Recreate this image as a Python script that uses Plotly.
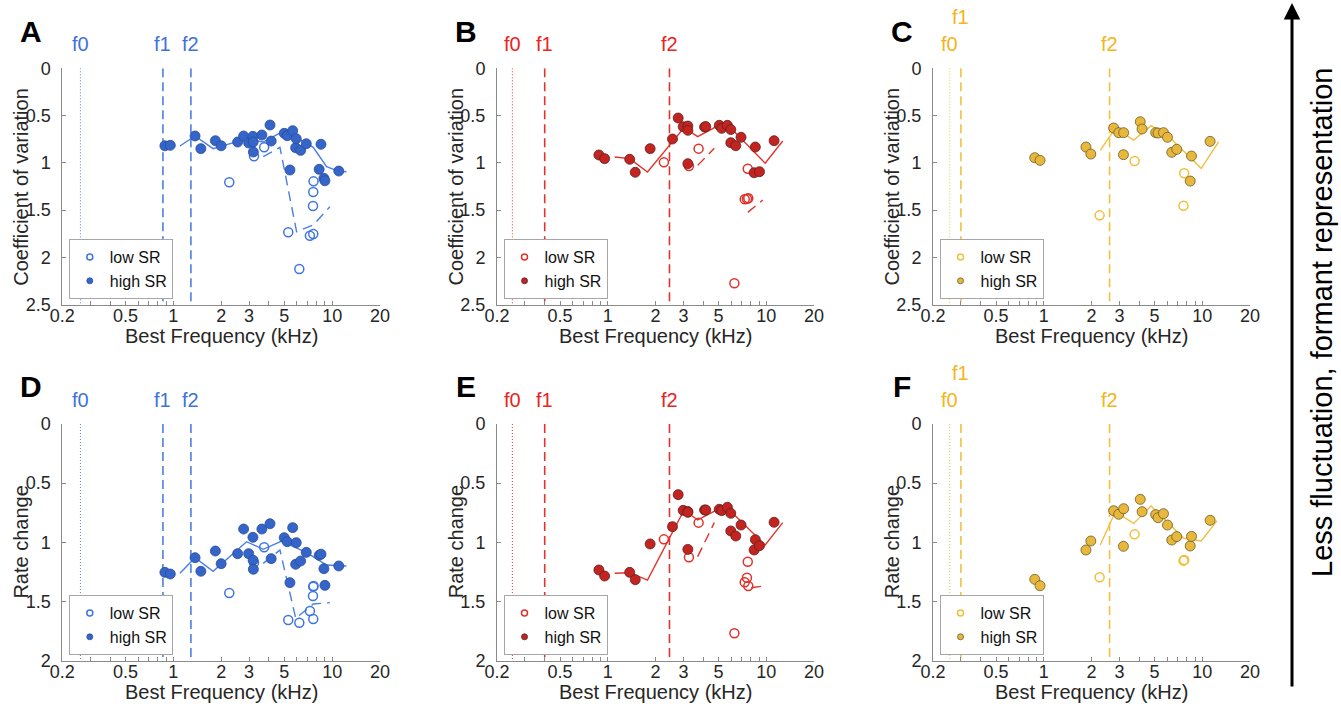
import math
import plotly.graph_objects as go

# ---------------- data ----------------
freq_labels = [0.2, 0.5, 1, 2, 3, 5, 10, 20]
freq_ticks = [0.2, 0.3, 0.4, 0.5, 0.6, 0.7, 0.8, 0.9, 1, 2, 3, 4, 5, 6, 7, 8, 9, 10, 20]
cv_ticks = [0, 0.5, 1, 1.5, 2, 2.5]
rc_ticks = [0, 0.5, 1, 1.5, 2]
formant_names = ["f0", "f1", "f2"]
sr_names = ["low SR", "high SR"]

# vowel 1 (blue) : panels A (CV) and D (rate change)
formants_blue = [0.26, 0.86, 1.29]
bf_hi_blue = [0.885, 0.957, 1.37, 1.49, 1.84, 2.0, 2.54, 2.77, 2.98, 3.17, 3.18, 3.19, 3.61, 4.06,
              4.13, 4.99, 5.21, 5.42, 5.64, 5.89, 5.94, 6.33, 6.87, 8.28, 8.5, 8.87, 9.0, 11.0]
cv_hi_blue = [0.82, 0.815, 0.716, 0.85, 0.766, 0.82, 0.78, 0.716, 0.79, 0.72, 0.78, 0.886, 0.706, 0.60,
              0.77, 0.688, 0.713, 1.076, 0.66, 0.84, 0.745, 0.868, 0.798, 1.069, 0.804, 1.164, 1.19, 1.087]
rc_hi_blue = [1.254, 1.268, 1.13, 1.245, 1.074, 1.181, 1.096, 0.888, 1.096, 0.958, 1.152, 1.228, 0.888, 0.843,
              1.138, 0.961, 0.995, 1.341, 0.876, 1.186, 1.003, 1.158, 1.085, 1.11, 1.10, 1.223, 1.364, 1.2]
bf_lo_blue = [2.25, 3.22, 3.73, 5.29, 6.21, 7.24, 7.6, 7.57, 7.6, 7.63]
cv_lo_blue = [1.206, 0.93, 0.836, 1.735, 2.124, 1.771, 1.753, 1.457, 1.309, 1.196]
rc_lo_blue = [1.429, 1.172, 1.042, 1.657, 1.68, 1.581, 1.648, 1.454, 1.375, 1.37]
cv_mean_hi_blue_f = [1.10, 1.37, 1.78, 2.54, 3.18, 3.68, 4.81, 5.82, 7.6, 9.22, 10.9, 12.3]
cv_mean_hi_blue = [0.822, 0.716, 0.85, 0.773, 0.759, 0.78, 0.674, 0.724, 0.836, 1.041, 1.087, 1.094]
cv_mean_lo_blue_f = [3.68, 4.69, 5.97, 7.6, 9.68]
cv_mean_lo_blue = [0.935, 0.836, 1.729, 1.658, 1.464]
rc_mean_hi_blue_f = [1.10, 1.37, 1.78, 2.89, 3.68, 4.81, 6.9, 9.22, 12.3]
rc_mean_hi_blue = [1.262, 1.13, 1.245, 0.995, 1.059, 0.989, 1.088, 1.192, 1.2]
rc_mean_lo_blue_f = [3.68, 4.69, 5.9, 7.6, 9.68]
rc_mean_lo_blue = [1.178, 1.065, 1.643, 1.522, 1.51]

# vowel 2 (red) : panels B and E
formants_red = [0.25, 0.40, 2.45]
bf_hi_red = [0.879, 0.955, 1.375, 1.49, 1.85, 2.56, 2.78, 2.99, 3.2, 3.2, 3.2, 4.08, 4.15, 5.05,
             5.23, 5.68, 5.97, 5.97, 6.42, 6.93, 8.38, 8.53, 9.06, 11.2]
cv_hi_red = [0.917, 0.956, 0.963, 1.10, 0.85, 0.748, 0.526, 0.618, 0.611, 0.656, 1.009, 0.621, 0.617, 0.603,
             0.635, 0.603, 0.648, 0.787, 0.819, 0.730, 1.105, 0.833, 1.094, 0.766]
rc_hi_red = [1.234, 1.285, 1.254, 1.316, 1.014, 0.868, 0.597, 0.73, 0.74, 0.747, 1.06, 0.727, 0.727, 0.721,
             0.732, 0.704, 0.755, 0.904, 0.947, 0.854, 1.065, 0.978, 1.029, 0.831]
bf_lo_red = [2.26, 3.25, 3.74, 7.64, 7.55, 7.31, 7.7, 6.29]
cv_lo_red = [0.995, 1.034, 0.85, 1.062, 1.38, 1.386, 1.375, 2.275]
rc_lo_red = [0.975, 1.127, 0.834, 1.164, 1.299, 1.338, 1.369, 1.769]
cv_mean_hi_red_f = [1.105, 1.375, 1.78, 3.03, 3.69, 5.05, 5.85, 9.84, 12.7]
cv_mean_hi_red = [0.939, 0.956, 1.097, 0.628, 0.723, 0.60, 0.617, 1.005, 0.769]
cv_mean_lo_red_f = [3.69, 4.7, None, 7.64, 9.51]
cv_mean_lo_red = [1.027, 0.847, None, 1.524, 1.394]
rc_mean_hi_red_f = [1.105, 1.375, 1.78, 3.03, 3.69, 5.05, 5.85, 9.84, 12.7]
rc_mean_hi_red = [1.262, 1.257, 1.319, 0.727, 0.811, 0.716, 0.727, 1.023, 0.834]
rc_mean_lo_red_f = [3.69, 4.7, None, 8.02, 9.74]
rc_mean_lo_red = [1.121, 0.834, None, 1.384, 1.369]

# vowel 3 (yellow) : panels C and F
formants_yellow = [0.255, 0.30, 2.6]
bf_hi_yellow = [0.877, 0.947, 1.845, 1.98, 2.76, 2.97, 3.19, 3.18, 4.06, 4.17, 5.08, 5.26, 5.69, 6.03,
                6.42, 6.9, 8.39, 8.55, 11.2]
cv_hi_yellow = [0.946, 0.974, 0.833, 0.907, 0.632, 0.681, 0.681, 0.914, 0.565, 0.642, 0.681, 0.685, 0.681, 0.73,
                0.889, 0.857, 1.193, 0.928, 0.773]
rc_hi_yellow = [1.313, 1.367, 1.065, 0.989, 0.733, 0.763, 0.716, 1.034, 0.637, 0.741, 0.766, 0.792, 0.758, 0.854,
                0.981, 0.952, 1.031, 0.95, 0.814]
bf_lo_yellow = [2.25, 3.74, 7.69, 7.61]
cv_lo_yellow = [1.556, 0.981, 1.111, 1.454]
rc_lo_yellow = [1.296, 0.933, 1.15, 1.155]
cv_mean_hi_yellow_f = [2.27, 2.83, 3.69, 4.75, 6.0, 9.85, 12.7]
cv_mean_hi_yellow = [0.868, 0.635, 0.759, 0.607, 0.706, 1.058, 0.777]
rc_mean_hi_yellow_f = [2.27, 2.83, 3.69, 4.75, 7.64, 9.85, 12.4]
rc_mean_hi_yellow = [1.023, 0.741, 0.84, 0.693, 0.966, 0.989, 0.817]

# ---------------- layout constants ----------------
W, H = 1341, 713
FONT = "Liberation Sans, Arial, Helvetica, sans-serif"
TXT = "#262626"
AXC = "#8a8a8a"
COL_X = [(62.3, 380.0), (497.0, 814.0), (933.0, 1250.0)]
ROW_Y = [(68.3, 304.6), (424.0, 660.6)]

STY = {
    "blue": dict(line="#4a7fe3", text="#3f72db", fill="#3565c8", edge="#2a4d9c", open="#3f74e0", raise_f1=False),
    "red": dict(line="#e3332b", text="#e8251e", fill="#c42420", edge="#5c2222", open="#e2302a", raise_f1=False),
    "yellow": dict(line="#f1c042", text="#f2b51c", fill="#e8b83d", edge="#6b5a2a", open="#f2be3a", raise_f1=True),
}


def px(x):
    return x / W


def py(y):
    return 1 - y / H


panels = [
    dict(letter="A", row=0, col=0, v="blue", formants=formants_blue,
         hi=(bf_hi_blue, cv_hi_blue), lo=(bf_lo_blue, cv_lo_blue),
         mhi=(cv_mean_hi_blue_f, cv_mean_hi_blue), mlo=(cv_mean_lo_blue_f, cv_mean_lo_blue),
         title="Coefficient of variation", ticks=cv_ticks),
    dict(letter="B", row=0, col=1, v="red", formants=formants_red,
         hi=(bf_hi_red, cv_hi_red), lo=(bf_lo_red, cv_lo_red),
         mhi=(cv_mean_hi_red_f, cv_mean_hi_red), mlo=(cv_mean_lo_red_f, cv_mean_lo_red),
         title="Coefficient of variation", ticks=cv_ticks),
    dict(letter="C", row=0, col=2, v="yellow", formants=formants_yellow,
         hi=(bf_hi_yellow, cv_hi_yellow), lo=(bf_lo_yellow, cv_lo_yellow),
         mhi=(cv_mean_hi_yellow_f, cv_mean_hi_yellow), mlo=None,
         title="Coefficient of variation", ticks=cv_ticks),
    dict(letter="D", row=1, col=0, v="blue", formants=formants_blue,
         hi=(bf_hi_blue, rc_hi_blue), lo=(bf_lo_blue, rc_lo_blue),
         mhi=(rc_mean_hi_blue_f, rc_mean_hi_blue), mlo=(rc_mean_lo_blue_f, rc_mean_lo_blue),
         title="Rate change", ticks=rc_ticks),
    dict(letter="E", row=1, col=1, v="red", formants=formants_red,
         hi=(bf_hi_red, rc_hi_red), lo=(bf_lo_red, rc_lo_red),
         mhi=(rc_mean_hi_red_f, rc_mean_hi_red), mlo=(rc_mean_lo_red_f, rc_mean_lo_red),
         title="Rate change", ticks=rc_ticks),
    dict(letter="F", row=1, col=2, v="yellow", formants=formants_yellow,
         hi=(bf_hi_yellow, rc_hi_yellow), lo=(bf_lo_yellow, rc_lo_yellow),
         mhi=(rc_mean_hi_yellow_f, rc_mean_hi_yellow), mlo=None,
         title="Rate change", ticks=rc_ticks),
]

fig = go.Figure()
layout = dict(width=W, height=H, margin=dict(l=0, r=0, t=0, b=0, autoexpand=False),
              paper_bgcolor="white", plot_bgcolor="white", showlegend=True,
              font=dict(family=FONT, color=TXT))
annotations = []

for i, p in enumerate(panels):
    n = i + 1
    sfx = "" if n == 1 else str(n)
    xa, ya = "x" + sfx, "y" + sfx
    lg = "legend" if n == 1 else "legend" + str(n)
    s = STY[p["v"]]
    ymax = p["ticks"][-1]
    x0, x1 = COL_X[p["col"]]
    y0, y1 = ROW_Y[p["row"]]

    # formant marker lines
    for j, f in enumerate(p["formants"]):
        fig.add_trace(go.Scatter(
            x=[f, f], y=[0, ymax], mode="lines", xaxis=xa, yaxis=ya, showlegend=False,
            hoverinfo="skip",
            line=dict(color=s["line"], width=1 if j == 0 else 1.6,
                      dash="1px,2px" if j == 0 else "9px,5px")))
        raise_px = 27 if (s["raise_f1"] and j == 1) else 0
        annotations.append(dict(
            xref=xa, yref="paper", x=math.log10(f), y=py(y0 - 24 - raise_px),
            text=formant_names[j], showarrow=False, xanchor="center", yanchor="middle",
            font=dict(size=20, color=s["text"], family=FONT)))

    # mean lines
    fig.add_trace(go.Scatter(x=p["mhi"][0], y=p["mhi"][1], mode="lines", xaxis=xa, yaxis=ya,
                             showlegend=False, hoverinfo="skip", connectgaps=False,
                             line=dict(color=s["line"], width=1.4)))
    if p["mlo"] is not None:
        fig.add_trace(go.Scatter(x=p["mlo"][0], y=p["mlo"][1], mode="lines", xaxis=xa, yaxis=ya,
                                 showlegend=False, hoverinfo="skip", connectgaps=False,
                                 line=dict(color=s["line"], width=1.4, dash="10px,6px")))

    # points
    fig.add_trace(go.Scatter(x=p["lo"][0], y=p["lo"][1], mode="markers", xaxis=xa, yaxis=ya,
                             showlegend=False, name=sr_names[0],
                             marker=dict(symbol="circle-open", size=9, color=s["open"],
                                         line=dict(width=1.5, color=s["open"]))))
    fig.add_trace(go.Scatter(x=p["hi"][0], y=p["hi"][1], mode="markers", xaxis=xa, yaxis=ya,
                             showlegend=False, name=sr_names[1],
                             marker=dict(symbol="circle", size=10, color=s["fill"],
                                         line=dict(width=0.8, color=s["edge"]))))
    # legend entries
    fig.add_trace(go.Scatter(x=[None], y=[None], mode="markers", xaxis=xa, yaxis=ya,
                             name=sr_names[0], legend=lg, showlegend=True,
                             marker=dict(symbol="circle-open", size=6, color=s["open"],
                                         line=dict(width=1.5, color=s["open"]))))
    fig.add_trace(go.Scatter(x=[None], y=[None], mode="markers", xaxis=xa, yaxis=ya,
                             name=sr_names[1], legend=lg, showlegend=True,
                             marker=dict(symbol="circle", size=6, color=s["fill"],
                                         line=dict(width=0.8, color=s["edge"]))))

    layout["xaxis" + sfx] = dict(
        type="log", range=[math.log10(0.2), math.log10(20)], domain=[px(x0), px(x1)],
        anchor=ya, tickvals=freq_ticks,
        ticktext=[f"{v:g}" if v in freq_labels else "" for v in freq_ticks],
        ticks="inside", ticklen=4, tickcolor=AXC, showline=True, linecolor=AXC, linewidth=1,
        showgrid=False, zeroline=False, mirror=False, ticklabelstandoff=-5,
        tickfont=dict(size=18, color=TXT, family=FONT))
    layout["yaxis" + sfx] = dict(
        range=[ymax, 0], domain=[py(y1), py(y0)], anchor=xa, tickvals=p["ticks"],
        ticktext=[f"{v:g}" for v in p["ticks"]],
        ticks="inside", ticklen=4, tickcolor=AXC, showline=True, linecolor=AXC, linewidth=1,
        showgrid=False, zeroline=False, mirror=False, ticklabelstandoff=7,
        tickfont=dict(size=18, color=TXT, family=FONT))
    layout[lg] = dict(
        x=px(x0 + 6.5), y=py(y1 - 5.5), xanchor="left", yanchor="bottom",
        bgcolor="white", bordercolor="#a6a6a6", borderwidth=1, itemwidth=30,
        tracegroupgap=0, traceorder="normal",
        font=dict(size=16, color="#111111", family=FONT))

    # panel letter
    annotations.append(dict(xref="paper", yref="paper", x=px(x0 - 31), y=py(y0 - 37),
                            text="<b>" + p["letter"] + "</b>", showarrow=False,
                            xanchor="center", yanchor="middle",
                            font=dict(size=30, color="black", family=FONT)))
    # axis titles
    annotations.append(dict(xref="paper", yref="paper", x=px(x0 - 41), y=py((y0 + y1) / 2),
                            text=p["title"], textangle=-90, showarrow=False,
                            xanchor="center", yanchor="middle",
                            font=dict(size=20, color=TXT, family=FONT)))
    annotations.append(dict(xref="paper", yref="paper", x=px((x0 + x1) / 2), y=py(y1 + 31),
                            text="Best Frequency (kHz)", showarrow=False,
                            xanchor="center", yanchor="middle",
                            font=dict(size=20, color=TXT, family=FONT)))

# right-hand arrow and caption
annotations.append(dict(xref="paper", yref="paper", x=px(1292), y=py(3), ax=0, ay=685,
                        axref="pixel", ayref="pixel", text="", showarrow=True,
                        arrowhead=2, arrowsize=1.1, arrowwidth=3, arrowcolor="black"))
annotations.append(dict(xref="paper", yref="paper", x=px(1322), y=py(323),
                        text="Less fluctuation, formant representation", textangle=-90,
                        showarrow=False, xanchor="center", yanchor="middle",
                        font=dict(size=29, color="black", family=FONT)))

layout["annotations"] = annotations
fig.update_layout(**layout)
fig.write_html("out.html")
